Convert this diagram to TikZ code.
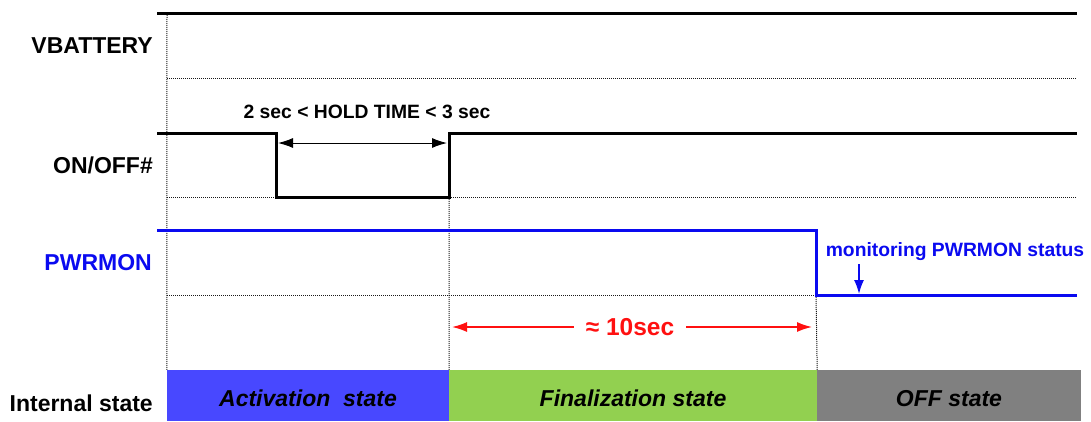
\documentclass[tikz,border=0pt]{standalone}
\usepackage{fontspec}
\setmainfont{Liberation Sans}
\usetikzlibrary{arrows.meta,positioning}
\definecolor{ActBlue}{HTML}{4848FF}
\definecolor{FinGreen}{HTML}{92D050}
\definecolor{OffGray}{HTML}{808080}
\definecolor{PwrBlue}{HTML}{0A0AF0}
\definecolor{NoteRed}{HTML}{FF1010}

\begin{document}
\begin{tikzpicture}[x=1pt, y=-1pt]
		\tikzstyle{Signal}	= [line width=3pt, black]
		\tikzstyle{Pwr}		= [line width=3pt, PwrBlue]
		\tikzstyle{Grid}	= [line width=1pt, densely dotted, black!90]
		\tikzstyle{Name}	= [anchor=east, inner sep=0pt, font=\fontsize{23}{26}\selectfont\bfseries]
		\tikzstyle{Note}	= [inner sep=0pt, font=\fontsize{19.3}{22}\selectfont\bfseries]
		\tikzstyle{State}	= [minimum width=282pt, minimum height=51pt, inner sep=0pt, text height=22pt, text depth=0pt, font=\fontsize{23}{26}\selectfont\bfseries\itshape]
		\tikzstyle{Tip}		= [-{Latex[length=15pt, width=10pt]}]
		
		\useasboundingbox (0,0) rectangle (1091,421);
		
		% signal names
		\node (vbat) at (153, 46) [Name] {VBATTERY};
		\node (onoff) at (153, 165) [Name] {ON/OFF\#};
		\node (pwrmon) at (152, 263) [Name, PwrBlue] {PWRMON};
		\node (istate) at (153, 403) [Name] {Internal state};
		
		% state bar
		\node (act) at (308, 395.5) [State, fill=ActBlue] {Activation~~state};
		\node (fin) at (633, 395.5) [State, fill=FinGreen, minimum width=368pt] {Finalization state};
		\node (off) at (949, 395.5) [State, fill=OffGray, minimum width=264pt] {OFF state};
		
		% waveform corners
		\coordinate (b1) at (157, 13);
		\coordinate (b2) at (1077, 13);
		\coordinate (o1) at (157, 133);
		\coordinate (o2) at (276, 133);
		\coordinate (o3) at (276, 197);
		\coordinate (o4) at (449, 197);
		\coordinate (o5) at (449, 133);
		\coordinate (o6) at (1077, 133);
		\coordinate (p1) at (157, 230);
		\coordinate (p2) at (816, 230);
		\coordinate (p3) at (816, 295);
		\coordinate (p4) at (1077, 295);
		
		% grid
		\draw [Grid] (167, 13) to (act.north west);
		\draw [Grid] (o5) to (act.north east);
		\draw [Grid] (p3) to (fin.north east);
		\draw [Grid] (167, 78) to (1077, 78);
		\draw [Grid] (167, 197) to (o3);
		\draw [Grid] (o4) to (1077, 197);
		\draw [Grid] (167, 295) to (p3);
		
		% signals
		\draw [Signal] (b1) to (b2);
		\draw [Signal] (o1) -- (o2) -- (o3) -- (o4) -- (o5) -- (o6);
		\draw [Pwr] (p1) -- (p2) -- (p3) -- (p4);
		
		% hold time
		\node (hold) at (367, 112) [Note] {2 sec < HOLD TIME < 3 sec};
		\draw [{Latex[length=15pt, width=10pt]}-{Latex[length=15pt, width=10pt]}, line width=1pt] (278, 143) to (447, 143);
		
		% finalization time
		\node (ten) at (630, 327) [Note, NoteRed, fill=white, inner xsep=12pt, font=\fontsize{24.5}{28}\selectfont\bfseries] {≈ 10sec};
		\draw [Tip, NoteRed, line width=1.5pt] (ten.west) to (452, 327);
		\draw [Tip, NoteRed, line width=1.5pt] (ten.east) to (812, 327);
		
		% monitoring
		\node (mon) at (955, 252) [Note, PwrBlue] {monitoring PWRMON status};
		\draw [-{Latex[length=14pt, width=10pt]}, PwrBlue, line width=1.5pt] (859, 264) to (859, 294);
	\end{tikzpicture}
\end{document}
